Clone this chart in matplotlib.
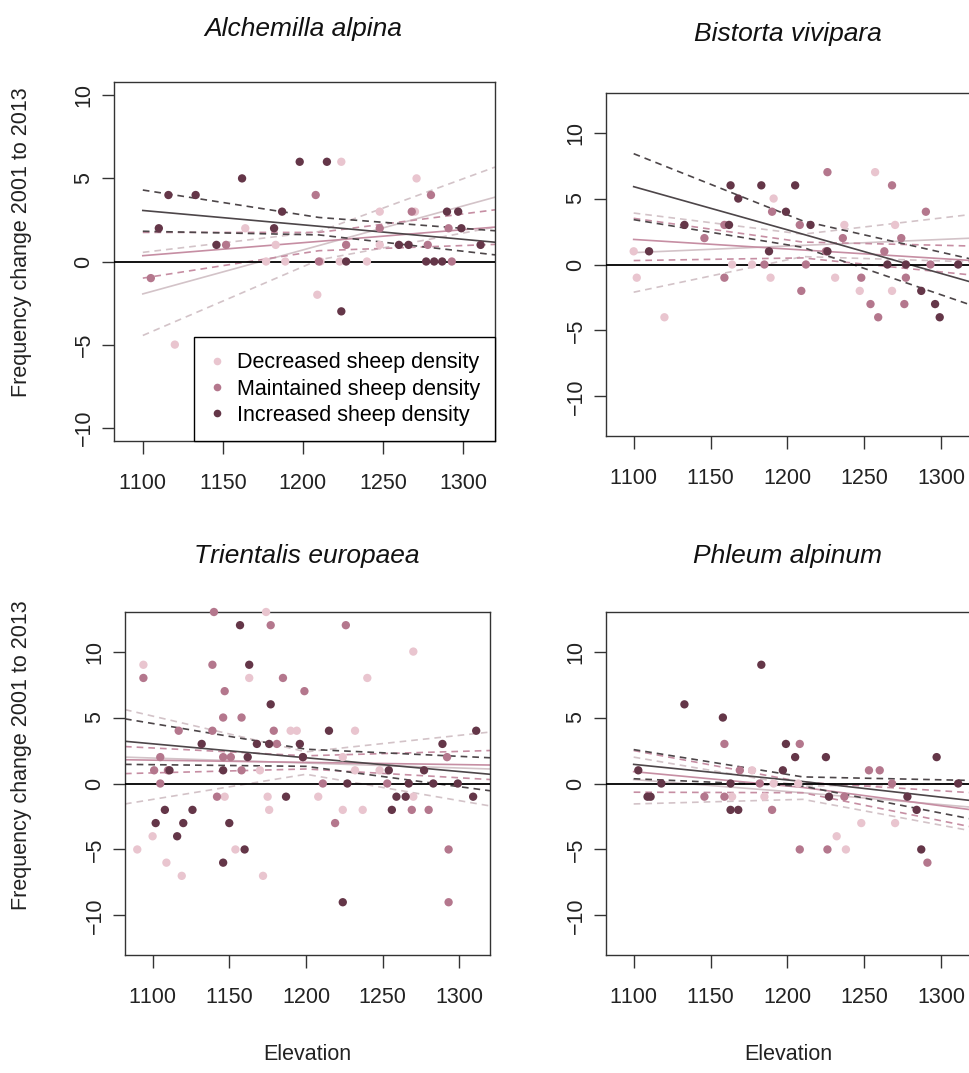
import matplotlib.pyplot as plt
from matplotlib.lines import Line2D

plt.rcParams['font.family'] = ['Liberation Sans', 'DejaVu Sans']
plt.rcParams['text.kerning_factor'] = 6

# --------------------------------------------------------------------------------------------------
# data
# --------------------------------------------------------------------------------------------------

groups = ['Decreased sheep density', 'Maintained sheep density', 'Increased sheep density']
point_cols = ['#e9c5cf', '#b4778d', '#643648']
line_cols = ['#d3c3c8', '#c68ea3', '#4d4649']

titles = ['Alchemilla alpina', 'Bistorta vivipara', 'Trientalis europaea', 'Phleum alpinum']
x_ticks = [1100, 1150, 1200, 1250, 1300]
y_ticks = [-10, -5, 0, 5, 10]

# Alchemilla alpina
alch_dec_x = [1224, 1271, 1248, 1270, 1164, 1183, 1248, 1177, 1189, 1211, 1223, 1240, 1209, 1120]
alch_dec_y = [6, 5, 3, 3, 2, 1, 1, 0, 0, 0, 0, 0, -2, -5]
alch_mai_x = [1208, 1280, 1268, 1248, 1291, 1152, 1227, 1278, 1210, 1293, 1105]
alch_mai_y = [4, 4, 3, 2, 2, 1, 1, 1, 0, 0, -1]
alch_inc_x = [1198, 1215, 1162, 1116, 1133, 1187, 1290, 1297, 1110, 1182, 1299, 1146, 1260, 1266,
              1311, 1227, 1277, 1282, 1287, 1224]
alch_inc_y = [6, 6, 5, 4, 4, 3, 3, 3, 2, 2, 2, 1, 1, 1, 1, 0, 0, 0, 0, -3]
# regression line and confidence band (lower, fit, upper) read at three elevations
alch_line_x = [1100, 1210, 1320]
alch_dec_band = [[-4.45, 0.1, 2.07], [-1.95, 0.96, 3.87], [0.55, 1.8, 5.68]]
alch_mai_band = [[-1.0, 0.65, 1.03], [0.35, 1.21, 2.07], [1.75, 1.75, 3.11]]
alch_inc_band = [[1.82, 1.6, 0.4], [3.07, 2.12, 1.16], [4.3, 2.65, 1.85]]

# Bistorta vivipara
bist_dec_x = [1257, 1191, 1237, 1270, 1100, 1164, 1177, 1102, 1189, 1231, 1247, 1268, 1120]
bist_dec_y = [7, 5, 3, 3, 1, 0, 0, -1, -1, -1, -2, -2, -4]
bist_mai_x = [1226, 1268, 1290, 1190, 1159, 1208, 1146, 1236, 1274, 1225, 1263, 1185, 1212, 1293,
              1159, 1248, 1277, 1209, 1254, 1276, 1259]
bist_mai_y = [7, 6, 4, 4, 3, 3, 2, 2, 2, 1, 1, 0, 0, 0, -1, -1, -1, -2, -3, -3, -4]
bist_inc_x = [1163, 1183, 1205, 1168, 1199, 1162, 1133, 1215, 1110, 1188, 1226, 1265, 1277, 1311,
              1287, 1296, 1299]
bist_inc_y = [6, 6, 6, 5, 4, 3, 3, 3, 1, 1, 1, 0, 0, 0, -2, -3, -4]
bist_line_x = [1100, 1210, 1320]
bist_dec_band = [[-2.1, 0.6, 0.2], [0.9, 1.45, 2.0], [3.9, 2.3, 3.8]]
bist_mai_band = [[0.3, 0.5, -0.8], [1.9, 1.1, 0.3], [3.5, 1.7, 1.4]]
bist_inc_band = [[3.4, 1.3, -3.1], [5.9, 2.3, -1.35], [8.4, 3.3, 0.4]]

# Trientalis europaea
trie_dec_x = [1174, 1094, 1270, 1163, 1240, 1190, 1194, 1232, 1224, 1170, 1232, 1248, 1147, 1175,
              1208, 1270, 1176, 1224, 1237, 1100, 1090, 1154, 1109, 1119, 1172]
trie_dec_y = [13, 9, 10, 8, 8, 4, 4, 4, 2, 1, 1, 1, -1, -1, -1, -1, -2, -2, -2, -4, -5, -5, -6,
              -7, -7]
trie_mai_x = [1140, 1177, 1226, 1139, 1094, 1185, 1147, 1199, 1146, 1158, 1117, 1139, 1179, 1181,
              1105, 1146, 1151, 1198, 1292, 1101, 1110, 1158, 1105, 1211, 1253, 1142, 1269, 1280,
              1219, 1293, 1293]
trie_mai_y = [13, 12, 12, 9, 8, 8, 7, 7, 5, 5, 4, 4, 4, 3, 2, 2, 2, 2, 2, 1, 1, 1, 0, 0, 0, -1,
              -2, -2, -3, -5, -9]
trie_inc_x = [1157, 1163, 1177, 1215, 1132, 1168, 1176, 1196, 1289, 1311, 1162, 1198, 1111, 1146,
              1254, 1277, 1227, 1267, 1283, 1299, 1187, 1259, 1265, 1309, 1108, 1126, 1256, 1102,
              1120, 1150, 1116, 1160, 1146, 1224]
trie_inc_y = [12, 9, 6, 4, 3, 3, 3, 3, 3, 4, 2, 2, 1, 1, 1, 1, 0, 0, 0, 0, -1, -1, -1, -1, -2,
              -2, -2, -3, -3, -3, -4, -5, -6, -9]
trie_line_x = [1082, 1200, 1320]
trie_dec_band = [[-1.55, 0.7, -1.7], [2.0, 1.55, 1.1], [5.6, 2.4, 3.9]]
trie_mai_band = [[0.75, 1.1, 0.3], [1.8, 1.6, 1.4], [2.8, 2.1, 2.5]]
trie_inc_band = [[1.45, 1.3, -0.55], [3.2, 1.95, 0.7], [4.9, 2.6, 1.95]]

# Phleum alpinum
phle_dec_x = [1177, 1191, 1207, 1164, 1185, 1248, 1270, 1232, 1238]
phle_dec_y = [1, 0, 0, -1, -1, -3, -3, -4, -5]
phle_mai_x = [1159, 1208, 1169, 1253, 1260, 1182, 1268, 1146, 1159, 1237, 1190, 1208, 1226, 1291]
phle_mai_y = [3, 3, 1, 1, 1, 0, 0, -1, -1, -1, -2, -5, -5, -6]
phle_inc_x = [1183, 1133, 1158, 1199, 1297, 1205, 1225, 1103, 1197, 1118, 1163, 1311, 1109, 1111,
              1227, 1278, 1163, 1168, 1284, 1287]
phle_inc_y = [9, 6, 5, 3, 2, 2, 2, 1, 1, 0, 0, 0, -1, -1, -1, -1, -2, -2, -2, -5]
phle_line_x = [1100, 1210, 1320]
phle_dec_band = [[-1.55, -1.2, -3.6], [0.3, -0.7, -1.8], [2.0, -0.2, 0.0]]
phle_mai_band = [[-0.66, -0.7, -3.3], [0.9, -0.3, -2.0], [2.5, 0.1, -0.7]]
phle_inc_band = [[0.36, -0.2, -2.7], [1.45, 0.15, -1.3], [2.57, 0.5, 0.23]]

panels = [
    ([(alch_dec_x, alch_dec_y), (alch_mai_x, alch_mai_y), (alch_inc_x, alch_inc_y)],
     alch_line_x, [alch_dec_band, alch_mai_band, alch_inc_band], 10.8),
    ([(bist_dec_x, bist_dec_y), (bist_mai_x, bist_mai_y), (bist_inc_x, bist_inc_y)],
     bist_line_x, [bist_dec_band, bist_mai_band, bist_inc_band], 13),
    ([(trie_dec_x, trie_dec_y), (trie_mai_x, trie_mai_y), (trie_inc_x, trie_inc_y)],
     trie_line_x, [trie_dec_band, trie_mai_band, trie_inc_band], 13),
    ([(phle_dec_x, phle_dec_y), (phle_mai_x, phle_mai_y), (phle_inc_x, phle_inc_y)],
     phle_line_x, [phle_dec_band, phle_mai_band, phle_inc_band], 13),
]

# --------------------------------------------------------------------------------------------------
# layout (pixel boxes: left, top, right, bottom)
# --------------------------------------------------------------------------------------------------

W, H = 970, 1073
boxes = [(114, 82, 495, 441), (606, 93, 972, 436), (125, 612, 490, 955), (606, 612, 972, 955)]
title_pos = [(303, 29), (788, 34), (307, 556), (788, 556)]

fig = plt.figure(figsize=(W / 100, H / 100), dpi=100)

for i, (pts, lx, bands, ylim) in enumerate(panels):
    l, t, r, b = boxes[i]
    ax = fig.add_axes([l / W, 1 - b / H, (r - l) / W, (b - t) / H])
    ax.set_xlim(1082, 1320)
    ax.set_ylim(-ylim, ylim)

    for g in range(3):
        lo, fit, hi = bands[g]
        ax.plot(lx, fit, color=line_cols[g], lw=1.2, zorder=2)
        ax.plot(lx, lo, color=line_cols[g], lw=1.2, ls=(0, (4, 3)), zorder=2)
        ax.plot(lx, hi, color=line_cols[g], lw=1.2, ls=(0, (4, 3)), zorder=2)
    ax.axhline(0, color='black', lw=1.3, zorder=3)
    for g in range(3):
        x, y = pts[g]
        ax.scatter(x, y, s=36, color=point_cols[g], edgecolors='none', zorder=4, clip_on=False)

    ax.set_xticks(x_ticks)
    ax.set_yticks(y_ticks)
    ax.tick_params(length=9, width=1, color='#333333', labelsize=15.5, labelcolor='#222222')
    ax.tick_params(axis='x', pad=14)
    ax.tick_params(axis='y', pad=5, labelrotation=90)
    for lab in ax.get_yticklabels():
        lab.set_verticalalignment('center')
    for s in ['top', 'right', 'bottom', 'left']:
        ax.spines[s].set_color('#333333')
        ax.spines[s].set_linewidth(1.0)

    fig.text(title_pos[i][0] / W, 1 - title_pos[i][1] / H, titles[i], fontsize=19,
             style='italic', ha='center', va='center', color='#111111')

    if i == 0:
        handles = [Line2D([], [], ls='none', marker='o', markersize=5.5, color=c,
                          markeredgecolor='none') for c in point_cols]
        leg = ax.legend(handles, groups, loc='lower right', fontsize=15.5, frameon=True,
                        fancybox=False, borderaxespad=0, edgecolor='black', framealpha=1,
                        handlelength=0.8, handletextpad=0.5, labelspacing=0.25, borderpad=0.7)
        leg.get_frame().set_linewidth(1.0)
        leg.set_zorder(5)

for yc in [242, 755]:
    fig.text(22 / W, 1 - yc / H, 'Frequency change 2001 to 2013', rotation=90, fontsize=15.5,
             ha='center', va='center', color='#222222')
for xc in [307, 788]:
    fig.text(xc / W, 1 - 1054 / H, 'Elevation', fontsize=15.5, ha='center', va='center',
             color='#222222')

fig.savefig('out.png', dpi=100)
